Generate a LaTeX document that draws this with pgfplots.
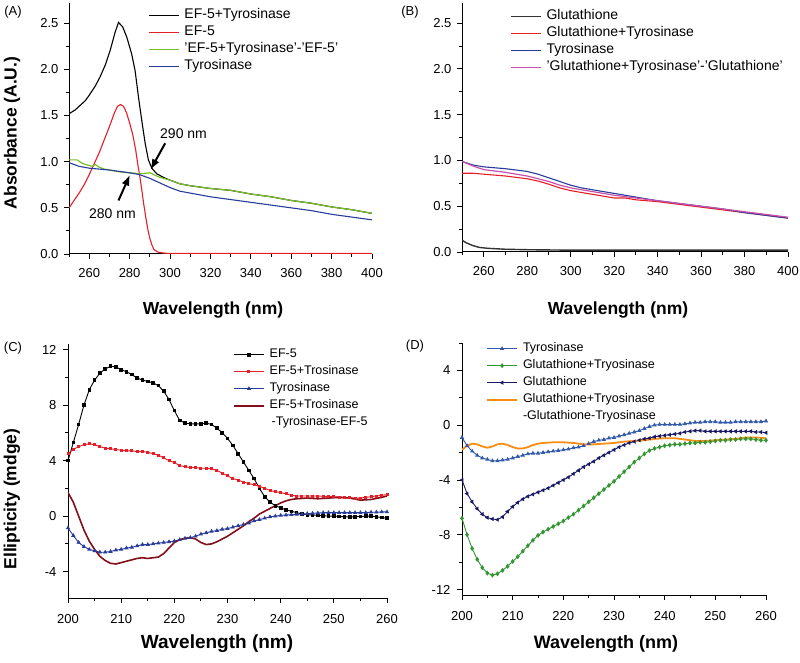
\documentclass[border=0pt]{standalone}
\usepackage{pgfplots}
\pgfplotsset{compat=1.18}
\usepackage{fontspec}
\setmainfont{Liberation Sans}
\usetikzlibrary{arrows.meta}

\definecolor{cRed}{RGB}{230,30,40}
\definecolor{cGreen}{RGB}{120,190,40}
\definecolor{cBlue}{RGB}{40,60,155}
\definecolor{cMag}{RGB}{200,80,170}
\definecolor{cDRed}{RGB}{130,15,25}
\definecolor{cLBlue}{RGB}{50,90,170}
\definecolor{cDGreen}{RGB}{50,150,50}
\definecolor{cNavy}{RGB}{25,25,100}
\definecolor{cOrange}{RGB}{250,140,20}

\pgfplotsset{
  panel/.style={
    scale only axis,
    axis x line*=bottom, axis y line*=left,
    tick align=outside,
    axis line style={line width=1pt},
    every major tick/.append style={black, line width=0.9pt, major tick length=5pt},
    every minor tick/.append style={black, line width=0.9pt, minor tick length=3pt},
    /pgf/number format/assume math mode=true,
    tick label style={font=\fontsize{13}{15}\selectfont},
    legend cell align=left,
    legend style={draw=none, fill=none, anchor=north west, inner sep=0pt,
      row sep=0pt, column sep=5pt,
      nodes={inner sep=0pt, text height=11pt, text depth=6pt},
      font=\fontsize{14}{16}\selectfont},
    legend image code/.code={\draw[mark repeat=2,mark phase=2,##1] plot coordinates {(0pt,0pt) (15pt,0pt) (30pt,0pt)};},
  },
  uvpanel/.style={panel,
    xmin=250, xmax=400, ymin=0, ymax=2.72,
    xtick={260,280,...,400}, minor xtick={250,270,...,390},
    ytick={0,0.5,...,2.5}, minor ytick={0.25,0.75,...,2.25},
    xticklabel style={yshift=-6pt},
    yticklabel style={xshift=-2pt, /pgf/number format/.cd, fixed, fixed zerofill, precision=1},
  },
  cdpanel/.style={panel,
    xmin=200, xmax=260,
    xtick={200,210,...,260}, minor xtick={205,215,...,255},
    xticklabel style={yshift=-8pt},
    yticklabel style={xshift=-3pt},
    legend style={font=\fontsize{12.5}{15}\selectfont},
  },
}

\begin{document}
\begin{tikzpicture}[x=1pt,y=1pt]
\useasboundingbox (0,0) rectangle (800,662);

% ---------------- (A)
\begin{axis}[uvpanel, at={(69pt,408pt)}, width=303pt, height=251pt,
  legend style={at={(rel axis cs:0.261,0.984)}}]
\addplot[black, line width=1.1pt] coordinates {
(250,1.52) (253,1.56) (255.5,1.61) (258,1.66) (260,1.72) (263,1.82) (265.4,1.92) (268,2.05)
(270.3,2.20) (272.8,2.40) (274.5,2.51) (276.6,2.46) (278.6,2.35) (281,2.17) (282.7,1.99)
(284.4,1.70) (286,1.45) (287.7,1.20) (289.3,1.02) (291,0.93) (293.4,0.87) (296.8,0.83)
(300,0.80) (305,0.76) (310,0.74) (320,0.71) (330,0.69) (340,0.65) (350,0.62) (360,0.58)
(370,0.55) (380,0.51) (390,0.48) (400,0.44)};
\addlegendentry{EF-5+Tyrosinase}
\addplot[cRed, line width=1.1pt] coordinates {
(250,0.50) (252.5,0.58) (255,0.66) (257.5,0.75) (260,0.86) (262.5,0.98) (265,1.10) (267.5,1.24)
(270,1.38) (272.5,1.53) (274,1.60) (275.5,1.62) (277,1.60) (278.5,1.53) (280,1.42)
(281.5,1.30) (283,1.13) (284,0.98) (285,0.85) (286,0.70) (287,0.54) (288,0.40) (289,0.27)
(290,0.17) (291,0.10) (292,0.05) (294,0.02) (297,0.01) (300,0.005) (350,0.005) (400,0.005)};
\addlegendentry{EF-5}
\addplot[cGreen, line width=1.2pt] coordinates {
(250,1.02) (252,1.02) (254,1.02) (256,0.99) (258,0.97) (260,0.96) (261.5,0.95) (263,0.97)
(265,0.94) (267.5,0.92) (270,0.91) (275,0.89) (280,0.88) (285,0.87) (288,0.875) (290,0.88)
(292,0.86) (295,0.83) (300,0.80) (305,0.76) (310,0.74) (320,0.71) (330,0.69) (340,0.65)
(350,0.62) (360,0.58) (370,0.55) (380,0.51) (390,0.48) (400,0.44)};
\addlegendentry{'EF-5+Tyrosinase'-'EF-5'}
\addplot[cBlue, line width=1.1pt] coordinates {
(250,0.99) (255,0.95) (260,0.93) (265,0.92) (270,0.91) (275,0.895) (280,0.88) (285,0.86)
(290,0.82) (295,0.77) (300,0.72) (305,0.68) (310,0.66) (320,0.62) (330,0.59) (340,0.56)
(350,0.53) (360,0.50) (370,0.47) (380,0.43) (390,0.40) (400,0.37)};
\addlegendentry{Tyrosinase}
\draw[-{Latex[length=11pt,width=8pt]}, line width=2pt] (axis cs:297.6,1.20) -- (axis cs:290.3,0.91);
\node[font=\fontsize{14}{16}\selectfont] at (axis cs:306.7,1.30) {290 nm};
\draw[-{Latex[length=11pt,width=8pt]}, line width=2pt] (axis cs:274.5,0.58) -- (axis cs:280.2,0.86);
\node[font=\fontsize{14}{16}\selectfont] at (axis cs:271.5,0.44) {280 nm};
\end{axis}

% ---------------- (B)
\begin{axis}[uvpanel, at={(462pt,410pt)}, width=326pt, height=249pt,
  legend style={at={(rel axis cs:0.147,0.98)}}]
\addplot[black!80, line width=1.4pt] coordinates {
(250,0.13) (252,0.10) (255,0.07) (258,0.05) (262,0.04) (266,0.035) (270,0.03) (280,0.025)
(300,0.02) (350,0.02) (400,0.02)};
\addlegendentry{Glutathione}
\addplot[cRed, line width=1.1pt] coordinates {
(250,0.86) (255,0.86) (260,0.85) (265,0.84) (270,0.83) (275,0.815) (280,0.80) (285,0.775)
(290,0.74) (295,0.70) (300,0.67) (305,0.65) (310,0.63) (315,0.61) (320,0.59) (325,0.59)
(330,0.57) (340,0.55) (350,0.52) (360,0.49) (370,0.46) (380,0.43) (390,0.40) (400,0.37)};
\addlegendentry{Glutathione+Tyrosinase}
\addplot[cBlue, line width=1.1pt] coordinates {
(250,0.99) (255,0.95) (260,0.93) (265,0.92) (270,0.91) (275,0.895) (280,0.88) (285,0.85)
(290,0.81) (295,0.77) (300,0.73) (305,0.70) (310,0.68) (320,0.64) (330,0.60) (340,0.56)
(350,0.53) (360,0.50) (370,0.47) (380,0.43) (390,0.40) (400,0.37)};
\addlegendentry{Tyrosinase}
\addplot[cMag, line width=1.2pt] coordinates {
(250,0.99) (255,0.94) (260,0.90) (265,0.885) (270,0.87) (275,0.85) (280,0.83) (285,0.80)
(290,0.77) (295,0.73) (300,0.70) (305,0.68) (310,0.66) (320,0.62) (330,0.59) (340,0.56)
(350,0.53) (360,0.50) (370,0.47) (380,0.44) (390,0.41) (400,0.38)};
\addlegendentry{'Glutathione+Tyrosinase'-'Glutathione'}
\end{axis}

% ---------------- (C)
\begin{axis}[cdpanel, at={(68pt,64pt)}, width=319pt, height=254pt,
  ymin=-5.9, ymax=12.4, ytick={-4,0,4,8,12}, minor ytick={-2,2,6,10},
  legend style={at={(rel axis cs:0.517,0.992)}}]
\addplot[black, line width=0.9pt, mark=square*, mark size=1.3pt, mark options={solid}] coordinates {
(200,4.0) (201,5.3) (202,6.6) (203,8.0) (204,9.1) (205,9.8) (206,10.3) (207,10.6) (208,10.8)
(209,10.75) (210,10.55) (211,10.4) (212,10.2) (213,9.95) (214,9.8) (215,9.7) (216,9.6)
(217,9.4) (218,9.0) (219,8.4) (220,7.6) (221,6.9) (222,6.7) (223,6.65) (224,6.65) (225,6.65)
(226,6.7) (227,6.6) (228,6.35) (229,6.0) (230,5.6) (231,5.1) (232,4.5) (233,3.9) (234,3.3)
(235,2.7) (236,2.0) (237,1.4) (238,1.0) (239,0.75) (240,0.6) (241,0.45) (242,0.35) (243,0.25)
(244,0.15) (245,0.1) (246,0.08) (247,0.05) (248,0.03) (249,0.0) (250,0.0) (251,-0.02)
(252,-0.05) (253,-0.05) (254,-0.05) (255,-0.03) (256,0.0) (257,0.0) (258,-0.05) (259,-0.1) (260,-0.15)};
\addlegendentry{EF-5}
\addplot[cRed, line width=0.9pt, mark=square*, mark size=1pt, mark options={solid}] coordinates {
(200,4.5) (201,4.8) (202,5.0) (203,5.15) (204,5.2) (205,5.15) (206,5.0) (207,4.9) (208,4.85)
(209,4.8) (210,4.75) (211,4.7) (212,4.7) (213,4.65) (214,4.65) (215,4.6) (216,4.5) (217,4.4)
(218,4.2) (219,4.0) (220,3.85) (221,3.65) (222,3.55) (223,3.5) (224,3.5) (225,3.45) (226,3.45)
(227,3.4) (228,3.3) (229,3.1) (230,2.9) (231,2.7) (232,2.6) (233,2.45) (234,2.35) (235,2.25)
(236,2.15) (237,2.0) (238,1.85) (239,1.75) (240,1.7) (241,1.6) (242,1.5) (243,1.45) (244,1.45)
(245,1.45) (246,1.45) (247,1.45) (248,1.42) (249,1.4) (250,1.4) (251,1.38) (252,1.35)
(253,1.32) (254,1.3) (255,1.3) (256,1.35) (257,1.4) (258,1.45) (259,1.5) (260,1.55)};
\addlegendentry{EF-5+Trosinase}
\addplot[cBlue, line width=0.9pt, mark=triangle*, mark size=1.6pt, mark options={solid}] coordinates {
(200,-0.85) (201,-1.4) (202,-1.9) (203,-2.2) (204,-2.4) (205,-2.5) (206,-2.6) (207,-2.6)
(208,-2.55) (209,-2.45) (210,-2.4) (211,-2.3) (212,-2.25) (213,-2.15) (214,-2.05) (215,-2.05)
(216,-2.0) (217,-1.95) (218,-1.9) (219,-1.85) (220,-1.8) (221,-1.7) (222,-1.6) (223,-1.55)
(224,-1.45) (225,-1.3) (226,-1.2) (227,-1.1) (228,-1.05) (229,-0.95) (230,-0.9) (231,-0.8)
(232,-0.7) (233,-0.6) (234,-0.5) (235,-0.35) (236,-0.25) (237,-0.15) (238,-0.05) (239,0.0)
(240,0.05) (241,0.08) (242,0.1) (243,0.12) (244,0.15) (245,0.18) (246,0.2) (247,0.22)
(248,0.25) (249,0.25) (250,0.25) (251,0.25) (252,0.25) (253,0.25) (254,0.25) (255,0.25)
(256,0.25) (257,0.28) (258,0.28) (259,0.3) (260,0.3)};
\addlegendentry{Tyrosinase}
\addplot[cDRed, line width=1.6pt] coordinates {
(200,1.7) (201,1.0) (202,0.0) (203,-1.0) (204,-1.8) (205,-2.4) (206,-2.9) (207,-3.2)
(208,-3.4) (209,-3.45) (210,-3.35) (211,-3.25) (212,-3.15) (213,-3.05) (214,-3.0) (215,-3.05)
(216,-3.0) (217,-2.95) (218,-2.7) (219,-2.3) (220,-1.9) (221,-1.7) (222,-1.6) (223,-1.55)
(224,-1.65) (225,-1.9) (226,-2.05) (227,-2.0) (228,-1.85) (229,-1.65) (230,-1.45) (231,-1.2)
(232,-0.95) (233,-0.7) (234,-0.4) (235,-0.15) (236,0.15) (237,0.35) (238,0.55) (239,0.75)
(240,0.95) (241,1.1) (242,1.2) (243,1.25) (245,1.3) (247,1.25) (249,1.3) (251,1.35)
(253,1.3) (255,1.15) (257,1.2) (259,1.35) (260,1.45)};
\addlegendentry{EF-5+Trosinase}
\addlegendimage{empty legend}
\addlegendentry{\hspace{2pt}-Tyrosinase-EF-5}
\end{axis}

% ---------------- (D)
\begin{axis}[cdpanel, at={(462pt,67pt)}, width=304pt, height=252pt,
  ymin=-12.4, ymax=6, ytick={-12,-8,-4,0,4}, minor ytick={-10,-6,-2,2,6},
  legend style={at={(rel axis cs:0.079,1.012)}}]
\addplot[cLBlue, line width=0.9pt, mark=triangle*, mark size=1.6pt, mark options={solid}] coordinates {
(200,-0.9) (201,-1.5) (202,-1.9) (203,-2.2) (204,-2.4) (205,-2.5) (206,-2.6) (207,-2.6)
(208,-2.55) (209,-2.5) (210,-2.4) (211,-2.3) (212,-2.2) (213,-2.1) (214,-2.05) (215,-2.05)
(216,-2.0) (217,-1.95) (218,-1.9) (219,-1.85) (220,-1.8) (221,-1.75) (222,-1.65) (223,-1.6)
(224,-1.5) (225,-1.35) (226,-1.2) (227,-1.1) (228,-1.05) (229,-0.95) (230,-0.9) (231,-0.8)
(232,-0.7) (233,-0.6) (234,-0.5) (235,-0.4) (236,-0.25) (237,-0.1) (238,0.0) (239,0.05)
(240,0.05) (241,0.05) (242,0.05) (243,0.05) (244,0.1) (245,0.15) (246,0.2) (247,0.2)
(248,0.25) (249,0.25) (250,0.25) (251,0.2) (252,0.2) (253,0.2) (254,0.25) (255,0.25)
(256,0.25) (257,0.25) (258,0.25) (259,0.25) (260,0.3)};
\addlegendentry{Tyrosinase}
\addplot[cDGreen, line width=0.9pt, mark=diamond*, mark size=1.8pt, mark options={solid}] coordinates {
(200,-6.8) (201,-8.0) (202,-9.0) (203,-9.8) (204,-10.4) (205,-10.8) (206,-10.95) (207,-10.85)
(208,-10.6) (209,-10.3) (210,-9.95) (211,-9.6) (212,-9.2) (213,-8.8) (214,-8.4) (215,-8.05)
(216,-7.8) (217,-7.6) (218,-7.4) (219,-7.2) (220,-7.0) (221,-6.75) (222,-6.5) (223,-6.2)
(224,-5.9) (225,-5.6) (226,-5.3) (227,-5.0) (228,-4.7) (229,-4.4) (230,-4.1) (231,-3.75)
(232,-3.4) (233,-3.05) (234,-2.7) (235,-2.4) (236,-2.1) (237,-1.85) (238,-1.7) (239,-1.6)
(240,-1.5) (241,-1.45) (242,-1.4) (243,-1.4) (244,-1.35) (245,-1.3) (246,-1.3) (247,-1.25)
(248,-1.25) (249,-1.2) (250,-1.15) (251,-1.1) (252,-1.1) (253,-1.05) (254,-1.05) (255,-1.0)
(256,-1.0) (257,-1.0) (258,-1.05) (259,-1.1) (260,-1.1)};
\addlegendentry{Glutathione+Tryosinase}
\addplot[cNavy, line width=0.9pt, mark=triangle*, mark size=1.6pt, mark options={solid, rotate=90}] coordinates {
(200,-4.0) (201,-5.0) (202,-5.6) (203,-6.1) (204,-6.5) (205,-6.75) (206,-6.85) (207,-6.9)
(208,-6.7) (209,-6.3) (210,-5.95) (211,-5.65) (212,-5.4) (213,-5.2) (214,-5.05) (215,-4.9)
(216,-4.75) (217,-4.6) (218,-4.4) (219,-4.2) (220,-4.0) (221,-3.8) (222,-3.55) (223,-3.3)
(224,-3.05) (225,-2.85) (226,-2.65) (227,-2.4) (228,-2.2) (229,-2.0) (230,-1.8) (231,-1.6)
(232,-1.45) (233,-1.3) (234,-1.2) (235,-1.1) (236,-1.0) (237,-0.95) (238,-0.85) (239,-0.8)
(240,-0.75) (241,-0.7) (242,-0.65) (243,-0.6) (244,-0.5) (245,-0.45) (246,-0.4) (247,-0.4)
(248,-0.45) (249,-0.45) (250,-0.45) (251,-0.45) (252,-0.45) (253,-0.45) (254,-0.45)
(255,-0.45) (256,-0.45) (257,-0.45) (258,-0.5) (259,-0.5) (260,-0.55)};
\addlegendentry{Glutathione}
\addplot[cOrange, line width=1.8pt] coordinates {
(200,-1.8) (201,-1.5) (202,-1.35) (203,-1.4) (204,-1.55) (205,-1.65) (206,-1.55) (207,-1.4)
(208,-1.35) (209,-1.45) (210,-1.6) (211,-1.7) (212,-1.7) (213,-1.6) (214,-1.45) (215,-1.35)
(216,-1.3) (218,-1.25) (220,-1.25) (222,-1.3) (224,-1.4) (226,-1.4) (228,-1.35) (230,-1.3)
(232,-1.2) (234,-1.15) (236,-1.1) (238,-1.0) (240,-0.95) (242,-0.95) (244,-1.05) (246,-1.15)
(248,-1.15) (250,-1.1) (252,-1.05) (254,-1.0) (256,-0.9) (258,-0.9) (260,-0.95)};
\addlegendentry{Glutathione+Tryosinase}
\addlegendimage{empty legend}
\addlegendentry{-Glutathione-Tryosinase}
\end{axis}

% ---------------- labels
\node[font=\fontsize{13}{15}\selectfont] at (13,650) {(A)};
\node[font=\fontsize{13}{15}\selectfont] at (410,650) {(B)};
\node[font=\fontsize{13}{15}\selectfont] at (13,314) {(C)};
\node[font=\fontsize{13}{15}\selectfont] at (415,316) {(D)};
\node[font=\fontsize{17.5}{20}\selectfont\bfseries] at (213,352) {Wavelength (nm)};
\node[font=\fontsize{17.5}{20}\selectfont\bfseries] at (618,352) {Wavelength (nm)};
\node[font=\fontsize{19}{22}\selectfont\bfseries] at (217,18) {Wavelength (nm)};
\node[font=\fontsize{18}{21}\selectfont\bfseries] at (606,18) {Wavelength (nm)};
\node[font=\fontsize{17.5}{20}\selectfont\bfseries, rotate=90] at (12,529) {Absorbance (A.U.)};
\node[font=\fontsize{17.5}{20}\selectfont\bfseries, rotate=90] at (12,163) {Ellipticity (mdge)};
\end{tikzpicture}
\end{document}
